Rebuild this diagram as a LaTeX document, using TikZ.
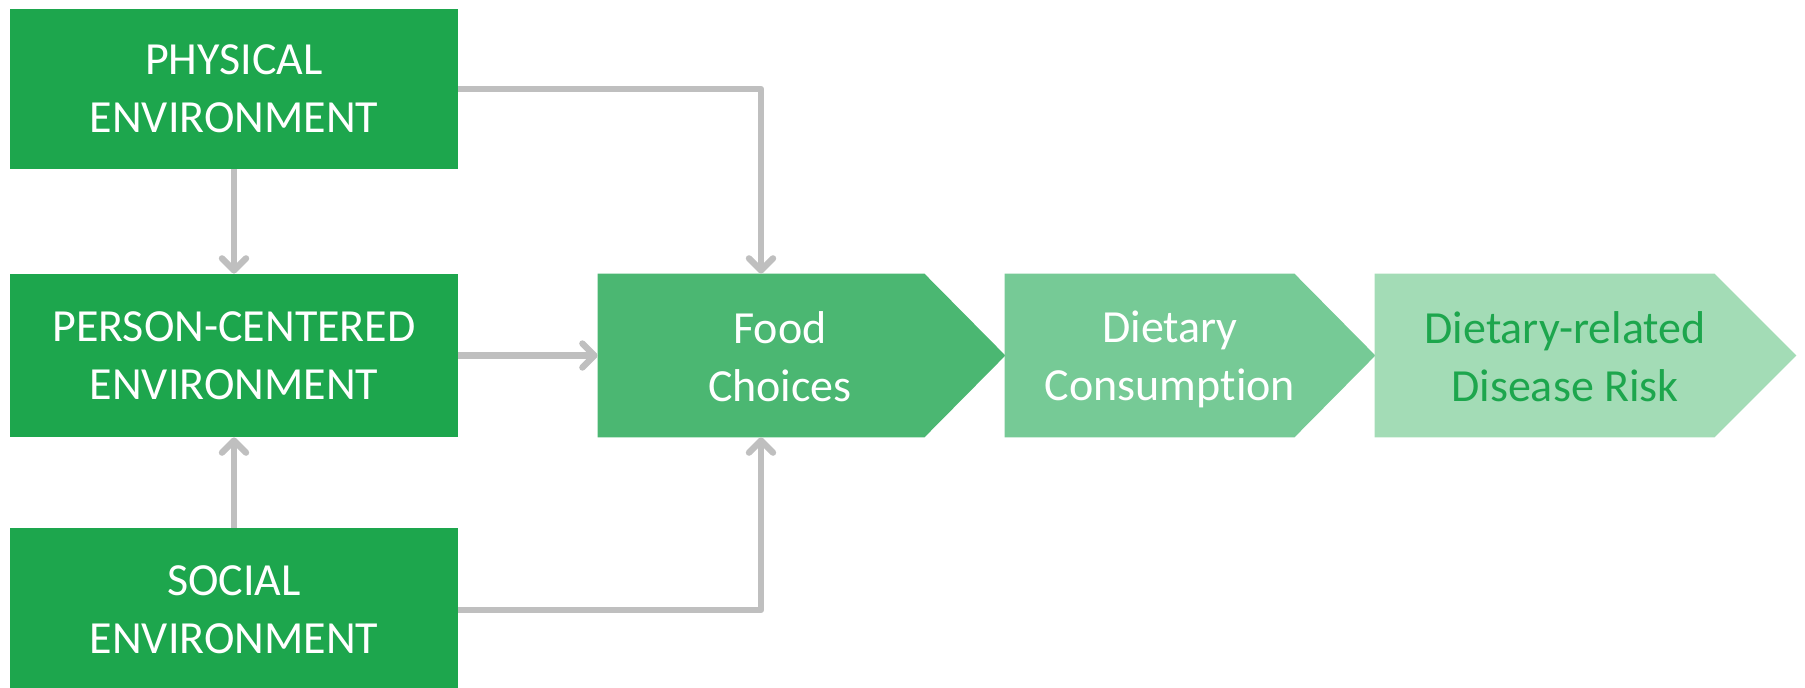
\documentclass[tikz,border=0pt]{standalone}
\usepackage{fontspec}
\setmainfont{Carlito}[Ligatures=NoCommon]
\usepackage{xcolor}
\usepackage{tikz}
\usetikzlibrary{arrows.meta, positioning}

\definecolor{envgreen}{HTML}{1DA64D}
\definecolor{foodgreen}{HTML}{4BB772}
\definecolor{dietgreen}{HTML}{76CA96}
\definecolor{riskgreen}{HTML}{A3DCB6}
\definecolor{linkgray}{HTML}{BFBFBF}

\begin{document}
\begin{tikzpicture}[
        x=0.5pt, y=-0.5pt,
        every node/.style={align=center, font=\fontsize{23}{29}\selectfont, inner sep=0pt},
        envbox/.style={fill=envgreen, text=white, minimum width=224pt, minimum height=80pt},
        chevbody/.style={minimum height=81.5pt},
        link/.style={draw=linkgray, line width=3.2pt, line join=round,
            -{Straight Barb[length=6pt, width=12pt, round]}}
    ]
    \useasboundingbox (0,0) rectangle (1805,687);

    % environments
    \node[envbox] (phys) at (234,89) {PHYSICAL\\ENVIRONMENT};
    \node[envbox, minimum height=81.5pt] (person) at (234,355.5) {PERSON-CENTERED\\ENVIRONMENT};
    \node[envbox, minimum height=82pt] (social) at (234,610) {SOCIAL\\ENVIRONMENT};

    % chevrons
    \node[chevbody, minimum width=163pt] (food) at (761,355.5) {};
    \node[chevbody, minimum width=144.5pt] (diet) at (1149.5,355.5) {};
    \node[chevbody, minimum width=169.5pt] (risk) at (1544.5,355.5) {};
    \fill[foodgreen] (food.north west) -- (food.north east) -- ([xshift=40.5pt]food.east) -- (food.south east) -- (food.south west) -- cycle;
    \fill[dietgreen] (diet.north west) -- (diet.north east) -- ([xshift=40.5pt]diet.east) -- (diet.south east) -- (diet.south west) -- cycle;
    \fill[riskgreen] (risk.north west) -- (risk.north east) -- ([xshift=41pt]risk.east) -- (risk.south east) -- (risk.south west) -- cycle;
    \node[text=white] (foodtext) at (780,357) {Food\\Choices};
    \node[text=white] (diettext) at (1170,359.5) {Dietary\\Consumption};
    \node[text=envgreen] (risktext) at (1565,357) {Dietary-related\\Disease Risk};

    \draw[link] (phys) -- (person);
    \draw[link] (social) -- (person);
    \draw[link] (person) -- (food);
    \draw[link] (phys.east) -| (food.north);
    \draw[link] (social.east) -| (food.south);

\end{tikzpicture}
\end{document}
